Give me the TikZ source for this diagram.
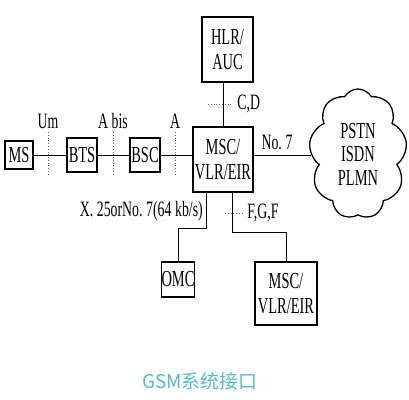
\documentclass[tikz,border=0pt]{standalone}
\usepackage{fontspec}
\setmainfont{Liberation Serif}[FakeStretch=0.63]
\newfontfamily\cjkfont{Noto Sans CJK SC}
\usetikzlibrary{shapes.symbols}
\definecolor{legende}{RGB}{85,185,215}
\begin{document}
\begin{tikzpicture}[x=1bp,y=-1bp,
    boite/.style={draw, line width=1.3pt, inner sep=0pt, align=center, font=\fontsize{23}{25}\selectfont},
    lien/.style={line width=1pt},
    interface/.style={dotted, line width=0.8pt, black!60},
    etiq/.style={font=\fontsize{22}{22}\selectfont, inner sep=0pt, text=black}]
    \useasboundingbox (0,0) rectangle (409,400);
    \node[boite, minimum width=28bp, minimum height=28bp] (ms) at (19,155) {MS};
    \node[boite, minimum width=30bp, minimum height=34bp] (bts) at (82,155) {BTS};
    \node[boite, minimum width=30bp, minimum height=34bp] (bsc) at (145,155) {BSC};
    \node[boite, minimum width=60bp, minimum height=65bp] (msc) at (223,159.5) {MSC/\\VLR/EIR};
    \node[boite, minimum width=51bp, minimum height=65bp] (hlr) at (227.5,49.5) {HLR/\\AUC};
    \node[boite, minimum width=30bp, minimum height=35bp] (omc) at (178,279.5) {OMC};
    \node[boite, minimum width=62bp, minimum height=63bp] (msc2) at (286,293.5) {MSC/\\VLR/EIR};
    \node[cloud, draw, line width=1.3pt, cloud puffs=9, cloud puff arc=120, aspect=0.8,
          minimum width=98bp, minimum height=130bp, inner sep=0pt, align=center,
          font=\fontsize{23}{23.5}\selectfont] (reseau) at (358,154) {PSTN\\ISDN\\PLMN};
    \draw[lien] (ms) -- (bts);
    \draw[lien] (bts) -- (bsc);
    \draw[lien] (bsc) -- (bsc -| msc.west);
    \draw[lien] (msc.north) -- (msc.north |- hlr.south);
    \draw[lien] (bsc -| msc.east) -- (bsc -| reseau.west);
    \draw[lien] (msc.south west) ++(14,0) -- ++(0,36) -| (omc.north);
    \draw[lien] (msc.south west) ++(40,0) -- ++(0,40) -| (msc2.north);
    \node[etiq] (um) at (48,121) {Um};
    \node[etiq] (abis) at (113,121) {A\,bis};
    \node[etiq] (a) at (175,121) {A};
    \draw[interface] (48,132) -- (48,176);
    \draw[interface] (113,132) -- (113,176);
    \draw[interface] (175,132) -- (175,176);
    \draw[interface] (208,104) -- (233,104) node[etiq, right=4bp] (cd) {C,D};
    \draw[interface] (225,213) -- (242,213) node[etiq, right=5bp] (egf) {F,G,F};
    \node[etiq, anchor=east] (x25) at (203,211) {X.\,25orNo.\,7(64\,kb/s)};
    \node[etiq] (no7) at (277,142) {No.\,7};
    \node[text=legende, font=\cjkfont\fontsize{19}{22}\selectfont] (titre) at (200,381) {GSM系统接口};
\end{tikzpicture}
\end{document}
